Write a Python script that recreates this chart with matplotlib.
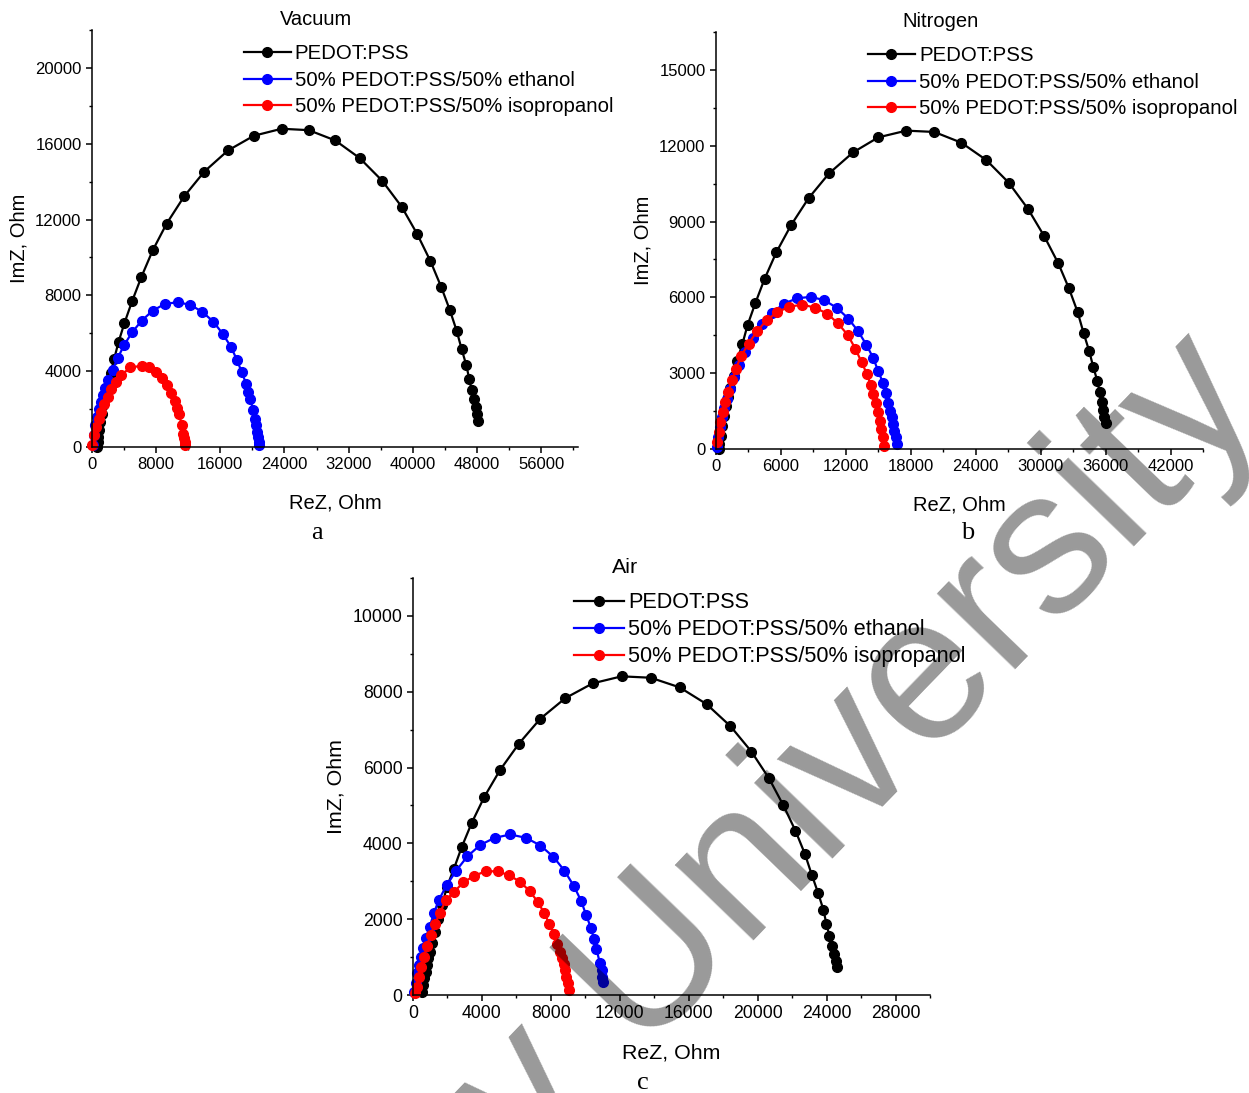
import matplotlib.pyplot as plt
from matplotlib.ticker import MultipleLocator

plt.rcParams['font.family'] = ['Liberation Sans', 'DejaVu Sans']

W, H = 1249, 1093

labels = ['PEDOT:PSS', '50% PEDOT:PSS/50% ethanol', '50% PEDOT:PSS/50% isopropanol']
colors = ['#000000', '#0000ff', '#ff0000']

# panel a - vacuum (ReZ, ImZ in Ohm)
vac_pedot_x = [620, 703, 785, 910, 1033, 1199, 1405, 1653, 1943, 2315, 2769, 3307, 4050, 5000,
               6163, 7564, 9300, 11495, 14012, 16951, 20175, 23645, 27032, 30343, 33397, 36167,
               38605, 40548, 42200, 43524, 44600, 45468, 46088, 46667, 47040, 47329, 47616,
               47823, 47988, 48153]
vac_pedot_y = [0, 265, 529, 882, 1323, 1767, 2206, 2666, 3227, 3883, 4655, 5539, 6544, 7692,
               8977, 10368, 11781, 13225, 14532, 15643, 16420, 16790, 16716, 16171, 15235, 14055,
               12680, 11236, 9807, 8464, 7247, 6136, 5168, 4322, 3597, 2999, 2507, 2084, 1730, 1397]
vac_eth_x = [124, 248, 413, 620, 826, 1075, 1323, 1653, 2025, 2563, 3224, 4009, 5000, 6200, 7564,
             9095, 10705, 12276, 13764, 15128, 16285, 17319, 18063, 18683, 19220, 19470, 19716,
             20129, 20336, 20501, 20625, 20708, 20790, 20832]
vac_eth_y = [88, 617, 1148, 1587, 2029, 2381, 2735, 3089, 3528, 4058, 4708, 5380, 6050, 6666, 7194,
             7549, 7638, 7496, 7126, 6613, 5980, 5290, 4602, 3935, 3333, 2900, 2507,
             1941, 1502, 1148, 794, 529, 265, 88]
vac_iso_x = [41, 248, 496, 826, 1157, 1529, 1943, 2398, 2976, 3637, 4795, 6241, 7151, 7978, 8763,
             9383, 9879, 10292, 10560, 10829, 11201, 11408, 11491, 11573, 11656]
vac_iso_y = [88, 617, 1058, 1502, 1852, 2243, 2645, 3052, 3439, 3793, 4200, 4285, 4200, 3935, 3618,
             3264, 2825, 2418, 2080, 1730, 1185, 709, 476, 265, 88]

# panel b - nitrogen
nit_pedot_x = [240, 302, 425, 548, 702, 887, 1072, 1321, 1626, 1940, 2430, 2920, 3631, 4491, 5572,
               6930, 8556, 10441, 12659, 14997, 17584, 20171, 22666, 24976, 27036, 28829, 30335,
               31629, 32617, 33412, 33966, 34493, 34863, 35232, 35445, 35629, 35753, 35876, 36030]
nit_pedot_y = [0, 198, 529, 926, 1322, 1719, 2049, 2406, 2882, 3478, 4141, 4907, 5768, 6733, 7781,
               8853, 9925, 10902, 11735, 12331, 12597, 12545, 12121, 11434, 10544, 9500, 8416,
               7345, 6352, 5423, 4589, 3863, 3240, 2700, 2263, 1866, 1560, 1255, 1032]
nit_eth_x = [55, 185, 333, 517, 767, 1016, 1321, 1691, 2153, 2707, 3419, 4250, 5202, 6311, 7512,
             8778, 10007, 11180, 12225, 13121, 13888, 14535, 14997, 15431, 15671, 15893, 16078,
             16232, 16356, 16479, 16602, 16725]
nit_eth_y = [66, 463, 858, 1255, 1612, 1985, 2382, 2843, 3335, 3851, 4407, 4935, 5399, 5757, 5967,
             6019, 5887, 5582, 5161, 4669, 4129, 3597, 3069, 2620, 2207, 1838, 1520,
             1255, 993, 728, 463, 198]
nit_iso_x = [92, 240, 397, 610, 859, 1137, 1478, 1848, 2310, 3012, 3788, 4676, 5636, 6745, 7946,
             9111, 10256, 11273, 12197, 12871, 13453, 13952, 14285, 14550, 14812, 14997, 15151,
             15274, 15397, 15520]
nit_iso_y = [265, 661, 1056, 1453, 1850, 2249, 2712, 3176, 3676, 4169, 4657, 5094, 5411, 5622, 5717,
             5598, 5360, 4974, 4498, 3970, 3438, 2962, 2541, 2180, 1826, 1453, 1124,
             794, 463, 132]

# panel c - air
air_pedot_x = [506, 583, 660, 737, 813, 890, 1006, 1121, 1272, 1445, 1699, 1965, 2370, 2832, 3410,
               4144, 5052, 6150, 7381, 8843, 10427, 12103, 13797, 15473, 17034, 18421, 19635,
               20658, 21484, 22195, 22739, 23143, 23507, 23814, 23987, 24160, 24316, 24432,
               24530, 24605]
air_pedot_y = [88, 265, 441, 617, 794, 970, 1146, 1384, 1675, 2003, 2381, 2850, 3326, 3908, 4543,
               5231, 5935, 6633, 7285, 7832, 8221, 8406, 8369, 8115, 7673, 7091, 6422,
               5715, 5009, 4331, 3723, 3167, 2691, 2249, 1879, 1569, 1305, 1085, 900, 741]
air_eth_x = [81, 156, 254, 347, 445, 578, 734, 965, 1214, 1503, 1965, 2508, 3162, 3913, 4740, 5647,
             6555, 7398, 8150, 8786, 9346, 9751, 10057, 10329, 10502, 10635, 10849, 10945,
             10983, 11022]
air_eth_y = [88, 309, 573, 794, 1015, 1235, 1499, 1790, 2161, 2514, 2902, 3281, 3660, 3961, 4146,
             4234, 4146, 3943, 3643, 3281, 2866, 2487, 2098, 1764, 1473, 1226, 838, 662, 485, 353]
air_iso_x = [116, 214, 347, 486, 636, 809, 1023, 1272, 1561, 1890, 2393, 2930, 3566, 4219, 4913,
             5572, 6208, 6763, 7248, 7612, 7919, 8190, 8381, 8537, 8635, 8751, 8828, 8905,
             8982, 9040]
air_iso_y = [44, 220, 485, 750, 1015, 1297, 1588, 1879, 2161, 2496, 2725, 2972, 3149, 3263, 3263,
             3158, 2990, 2744, 2453, 2161, 1870, 1614, 1357, 1138, 970, 820, 661, 485, 309, 132]

# every panel: series, pixel box of the axes, limits, tick steps, title, letter, text scale
panels = [
    dict(series=[(vac_pedot_x, vac_pedot_y), (vac_eth_x, vac_eth_y), (vac_iso_x, vac_iso_y)],
         box=(92, 30, 578, 447), xlim=60600, ylim=22000, xstep=8000, ystep=4000,
         title='Vacuum', title_x=0.46, letter='a', letter_pos=(317, 533), scale=1.0, spacing=0.37),
    dict(series=[(nit_pedot_x, nit_pedot_y), (nit_eth_x, nit_eth_y), (nit_iso_x, nit_iso_y)],
         box=(716, 32, 1203, 449), xlim=45000, ylim=16500, xstep=6000, ystep=3000,
         title='Nitrogen', title_x=0.462, letter='b', letter_pos=(968, 533), scale=1.0, spacing=0.37),
    dict(series=[(air_pedot_x, air_pedot_y), (air_eth_x, air_eth_y), (air_iso_x, air_iso_y)],
         box=(413, 578, 930, 995), xlim=30000, ylim=11000, xstep=4000, ystep=2000,
         title='Air', title_x=0.41, letter='c', letter_pos=(643, 1083), scale=1.06, spacing=0.28),
]

fig = plt.figure(figsize=(W / 100, H / 100), dpi=100)

for p in panels:
    left, top, right, bottom = p['box']
    k = p['scale']
    ax = fig.add_axes([left / W, 1 - bottom / H, (right - left) / W, (bottom - top) / H])

    for (x, y), lab, col in zip(p['series'], labels, colors):
        ax.plot(x, y, '-o', color=col, lw=1.6, ms=7, label=lab, clip_on=False)

    ax.set_xlim(0, p['xlim'])
    ax.set_ylim(0, p['ylim'])
    ax.xaxis.set_major_locator(MultipleLocator(p['xstep']))
    ax.xaxis.set_minor_locator(MultipleLocator(p['xstep'] / 2))
    ax.yaxis.set_major_locator(MultipleLocator(p['ystep']))
    ax.yaxis.set_minor_locator(MultipleLocator(p['ystep'] / 2))

    # only left and bottom axis lines, ticks pointing out
    ax.spines['top'].set_visible(False)
    ax.spines['right'].set_visible(False)
    for s in ['left', 'bottom']:
        ax.spines[s].set_linewidth(1.1)
    ax.tick_params(which='major', direction='out', length=4.5, width=1.1, labelsize=12 * k, pad=3)
    ax.tick_params(which='minor', direction='out', length=2.5, width=1.0)

    ax.set_xlabel('ReZ, Ohm', fontsize=14.5 * k, labelpad=15)
    ax.set_ylabel('ImZ, Ohm', fontsize=14.5 * k, labelpad=5)
    ax.text(p['title_x'], 1.024, p['title'], transform=ax.transAxes,
            ha='center', va='center', fontsize=14.5 * k)

    ax.legend(loc='upper left', bbox_to_anchor=(0.312, 0.966), frameon=False, fontsize=14.7 * k,
              handlelength=2.3, handletextpad=0.2, labelspacing=p['spacing'], borderpad=0,
              borderaxespad=0)

    lx, ly = p['letter_pos']
    fig.text(lx / W, 1 - ly / H, p['letter'], ha='center', va='center', fontsize=19,
             family='Liberation Serif')

# grey watermark lying over the charts
fig.text(530 / W, 1 - 1172 / H, 'v University', rotation=46, rotation_mode='anchor',
         ha='left', va='baseline', fontsize=148, color='black', alpha=0.4,
         family='Liberation Sans')

fig.savefig('out.png', dpi=100)
